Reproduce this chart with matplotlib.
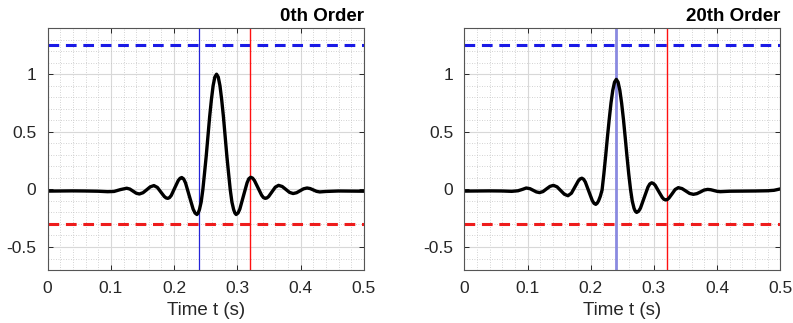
import numpy as np
import matplotlib
matplotlib.use('Agg')
import matplotlib.pyplot as plt
from matplotlib.ticker import MultipleLocator

plt.rcParams['font.family'] = ['Liberation Sans', 'DejaVu Sans']
plt.rcParams['axes.unicode_minus'] = False

# DADOS

titles = ['0th Order', '20th Order']

# 0th order
t_0 = [0.0, 0.02, 0.04, 0.06, 0.08, 0.095, 0.105, 0.115, 0.125,
       0.130, 0.135, 0.140, 0.145, 0.1508, 0.1565, 0.1622, 0.168,
       0.1735, 0.179, 0.1845, 0.18725, 0.190, 0.19275, 0.1955, 0.201, 0.2065, 0.2093, 0.212,
       0.215, 0.218, 0.224, 0.230, 0.233, 0.236, 0.238, 0.240, 0.2427,
       0.2453, 0.248, 0.2507, 0.2534, 0.2561, 0.2589, 0.2616, 0.2643, 0.267,
       0.2697, 0.2724, 0.2751, 0.2779, 0.2806, 0.2833, 0.286, 0.2887,
       0.2913, 0.294, 0.296, 0.298, 0.301,
       0.3038, 0.3095, 0.3153, 0.3181, 0.321, 0.3239, 0.3268, 0.3325, 0.3383, 0.3411, 0.344,
       0.3466, 0.3493, 0.3545, 0.3598, 0.365, 0.3708, 0.3765, 0.3823, 0.388,
       0.3935, 0.399, 0.4045, 0.410, 0.415, 0.420, 0.425, 0.430,
       0.44, 0.46, 0.48, 0.5]
v_0 = [-0.015, -0.014, -0.013, -0.014, -0.016, -0.020, -0.018, -0.002, 0.010,
       0.003, -0.015, -0.033, -0.040, -0.029, -0.004, 0.022, 0.033,
       0.017, -0.023, -0.062, -0.074, -0.078, -0.071, -0.052, 0.013, 0.077, 0.096, 0.103,
       0.091, 0.056, -0.058, -0.171, -0.205, -0.218, -0.205, -0.175, -0.110,
       -0.005, 0.140, 0.290, 0.460, 0.630, 0.780, 0.900, 0.975, 1.000,
       0.975, 0.900, 0.780, 0.630, 0.460, 0.290, 0.140, -0.005,
       -0.110, -0.175, -0.205, -0.218, -0.205,
       -0.171, -0.057, 0.058, 0.093, 0.105, 0.098, 0.078, 0.014, -0.051, -0.071, -0.078,
       -0.074, -0.062, -0.022, 0.019, 0.035, 0.025, 0.000, -0.026, -0.036,
       -0.029, -0.012, 0.005, 0.012, 0.007, -0.005, -0.017, -0.022,
       -0.018, -0.014, -0.015, -0.016]

# 20th order
t_20 = [0.0, 0.02, 0.04, 0.06, 0.075, 0.085, 0.092, 0.098,
        0.104, 0.109, 0.114, 0.119, 0.1245, 0.130, 0.1355, 0.141,
        0.1468, 0.1525, 0.1583, 0.164, 0.1695, 0.175, 0.1805, 0.18325, 0.186,
        0.18875, 0.1915, 0.197, 0.2025, 0.20525, 0.208, 0.2102, 0.2124, 0.2152,
        0.218, 0.2208, 0.2236, 0.2264, 0.2293, 0.2321, 0.2349, 0.2377, 0.2405,
        0.2433, 0.2461, 0.2489, 0.2518, 0.2546, 0.2574, 0.2602, 0.263,
        0.2658, 0.2686, 0.2706, 0.2727, 0.2757,
        0.2787, 0.2846, 0.2906, 0.2935, 0.2965, 0.2993, 0.3021, 0.3076, 0.3132, 0.3159, 0.3187,
        0.3212, 0.3237, 0.3287, 0.3336, 0.3386, 0.3445, 0.3505, 0.3564, 0.3623,
        0.368, 0.3737, 0.3793, 0.385, 0.390, 0.395, 0.400, 0.405,
        0.42, 0.44, 0.46, 0.48, 0.49, 0.5]
v_20 = [-0.015, -0.014, -0.013, -0.014, -0.017, -0.012, 0.000, 0.012,
        0.006, -0.008, -0.022, -0.028, -0.019, 0.004, 0.026, 0.035,
        0.022, -0.010, -0.042, -0.055, -0.033, 0.021, 0.075, 0.091, 0.097,
        0.088, 0.064, -0.017, -0.097, -0.121, -0.130, -0.120, -0.100, -0.060,
        -0.005, 0.133, 0.287, 0.450, 0.608, 0.750, 0.860, 0.931, 0.955,
        0.931, 0.860, 0.750, 0.608, 0.450, 0.287, 0.133, 0.000,
        -0.103, -0.165, -0.190, -0.200, -0.190,
        -0.163, -0.072, 0.020, 0.047, 0.057, 0.051, 0.035, -0.018, -0.070, -0.086, -0.092,
        -0.088, -0.076, -0.039, -0.001, 0.015, 0.007, -0.014, -0.035, -0.043,
        -0.037, -0.022, -0.006, 0.000, -0.003, -0.010, -0.017, -0.020,
        -0.016, -0.015, -0.014, -0.012, -0.008, 0.004]

curves = [(t_0, v_0), (t_20, v_20)]

upper_level = 1.25
lower_level = -0.3
t_blue = 0.24
t_red = 0.32

xticks = [0, 0.1, 0.2, 0.3, 0.4, 0.5]
xtick_labels = ['0', '0.1', '0.2', '0.3', '0.4', '0.5']
yticks = [-0.5, 0, 0.5, 1]
ytick_labels = ['-0.5', '0', '0.5', '1']

# FIGURA

fig = plt.figure(figsize=(7.93, 3.23), dpi=100)
positions = [[0.060, 0.164, 0.399, 0.749], [0.5855, 0.164, 0.3985, 0.749]]
blue_styles = [dict(color='#2424d8', lw=0.9), dict(color='#8a8ae0', lw=2.0)]

for i, (t, v) in enumerate(curves):
    ax = fig.add_axes(positions[i])
    ax.set_xlim(0, 0.5)
    ax.set_ylim(-0.7, 1.4)

    ax.xaxis.set_minor_locator(MultipleLocator(0.02))
    ax.yaxis.set_minor_locator(MultipleLocator(0.1))
    ax.grid(True, which='major', color='#d8d8d8', lw=0.8, ls='-')
    ax.grid(True, which='minor', color='#c4c4c4', lw=0.6, ls=(0, (1, 2)))
    ax.set_axisbelow(True)

    ax.axhline(upper_level, color='#1a1ae6', lw=2.2, dashes=(3.5, 2.2))
    ax.axhline(lower_level, color='#ee1c1c', lw=2.2, dashes=(3.5, 2.2))
    ax.axvline(t_blue, **blue_styles[i])
    ax.axvline(t_red, color='#ff1010', lw=1.0)

    ax.plot(t, v, color='black', lw=2.4, solid_joinstyle='round')

    ax.set_xticks(xticks)
    ax.set_xticklabels(xtick_labels)
    ax.set_yticks(yticks)
    ax.set_yticklabels(ytick_labels)
    ax.tick_params(which='major', direction='in', length=3.5, width=0.7,
                   top=True, right=True, labelsize=12.5, colors='#262626', pad=8)
    ax.tick_params(which='minor', length=0)
    for s in ax.spines.values():
        s.set_color('#555555')
        s.set_linewidth(0.8)

    ax.set_xlabel('Time t (s)', fontsize=13.5, color='#262626', labelpad=4)
    ax.set_title(titles[i], loc='right', fontsize=13.5, fontweight='bold', pad=5)

plt.savefig('out.png', dpi=100)
